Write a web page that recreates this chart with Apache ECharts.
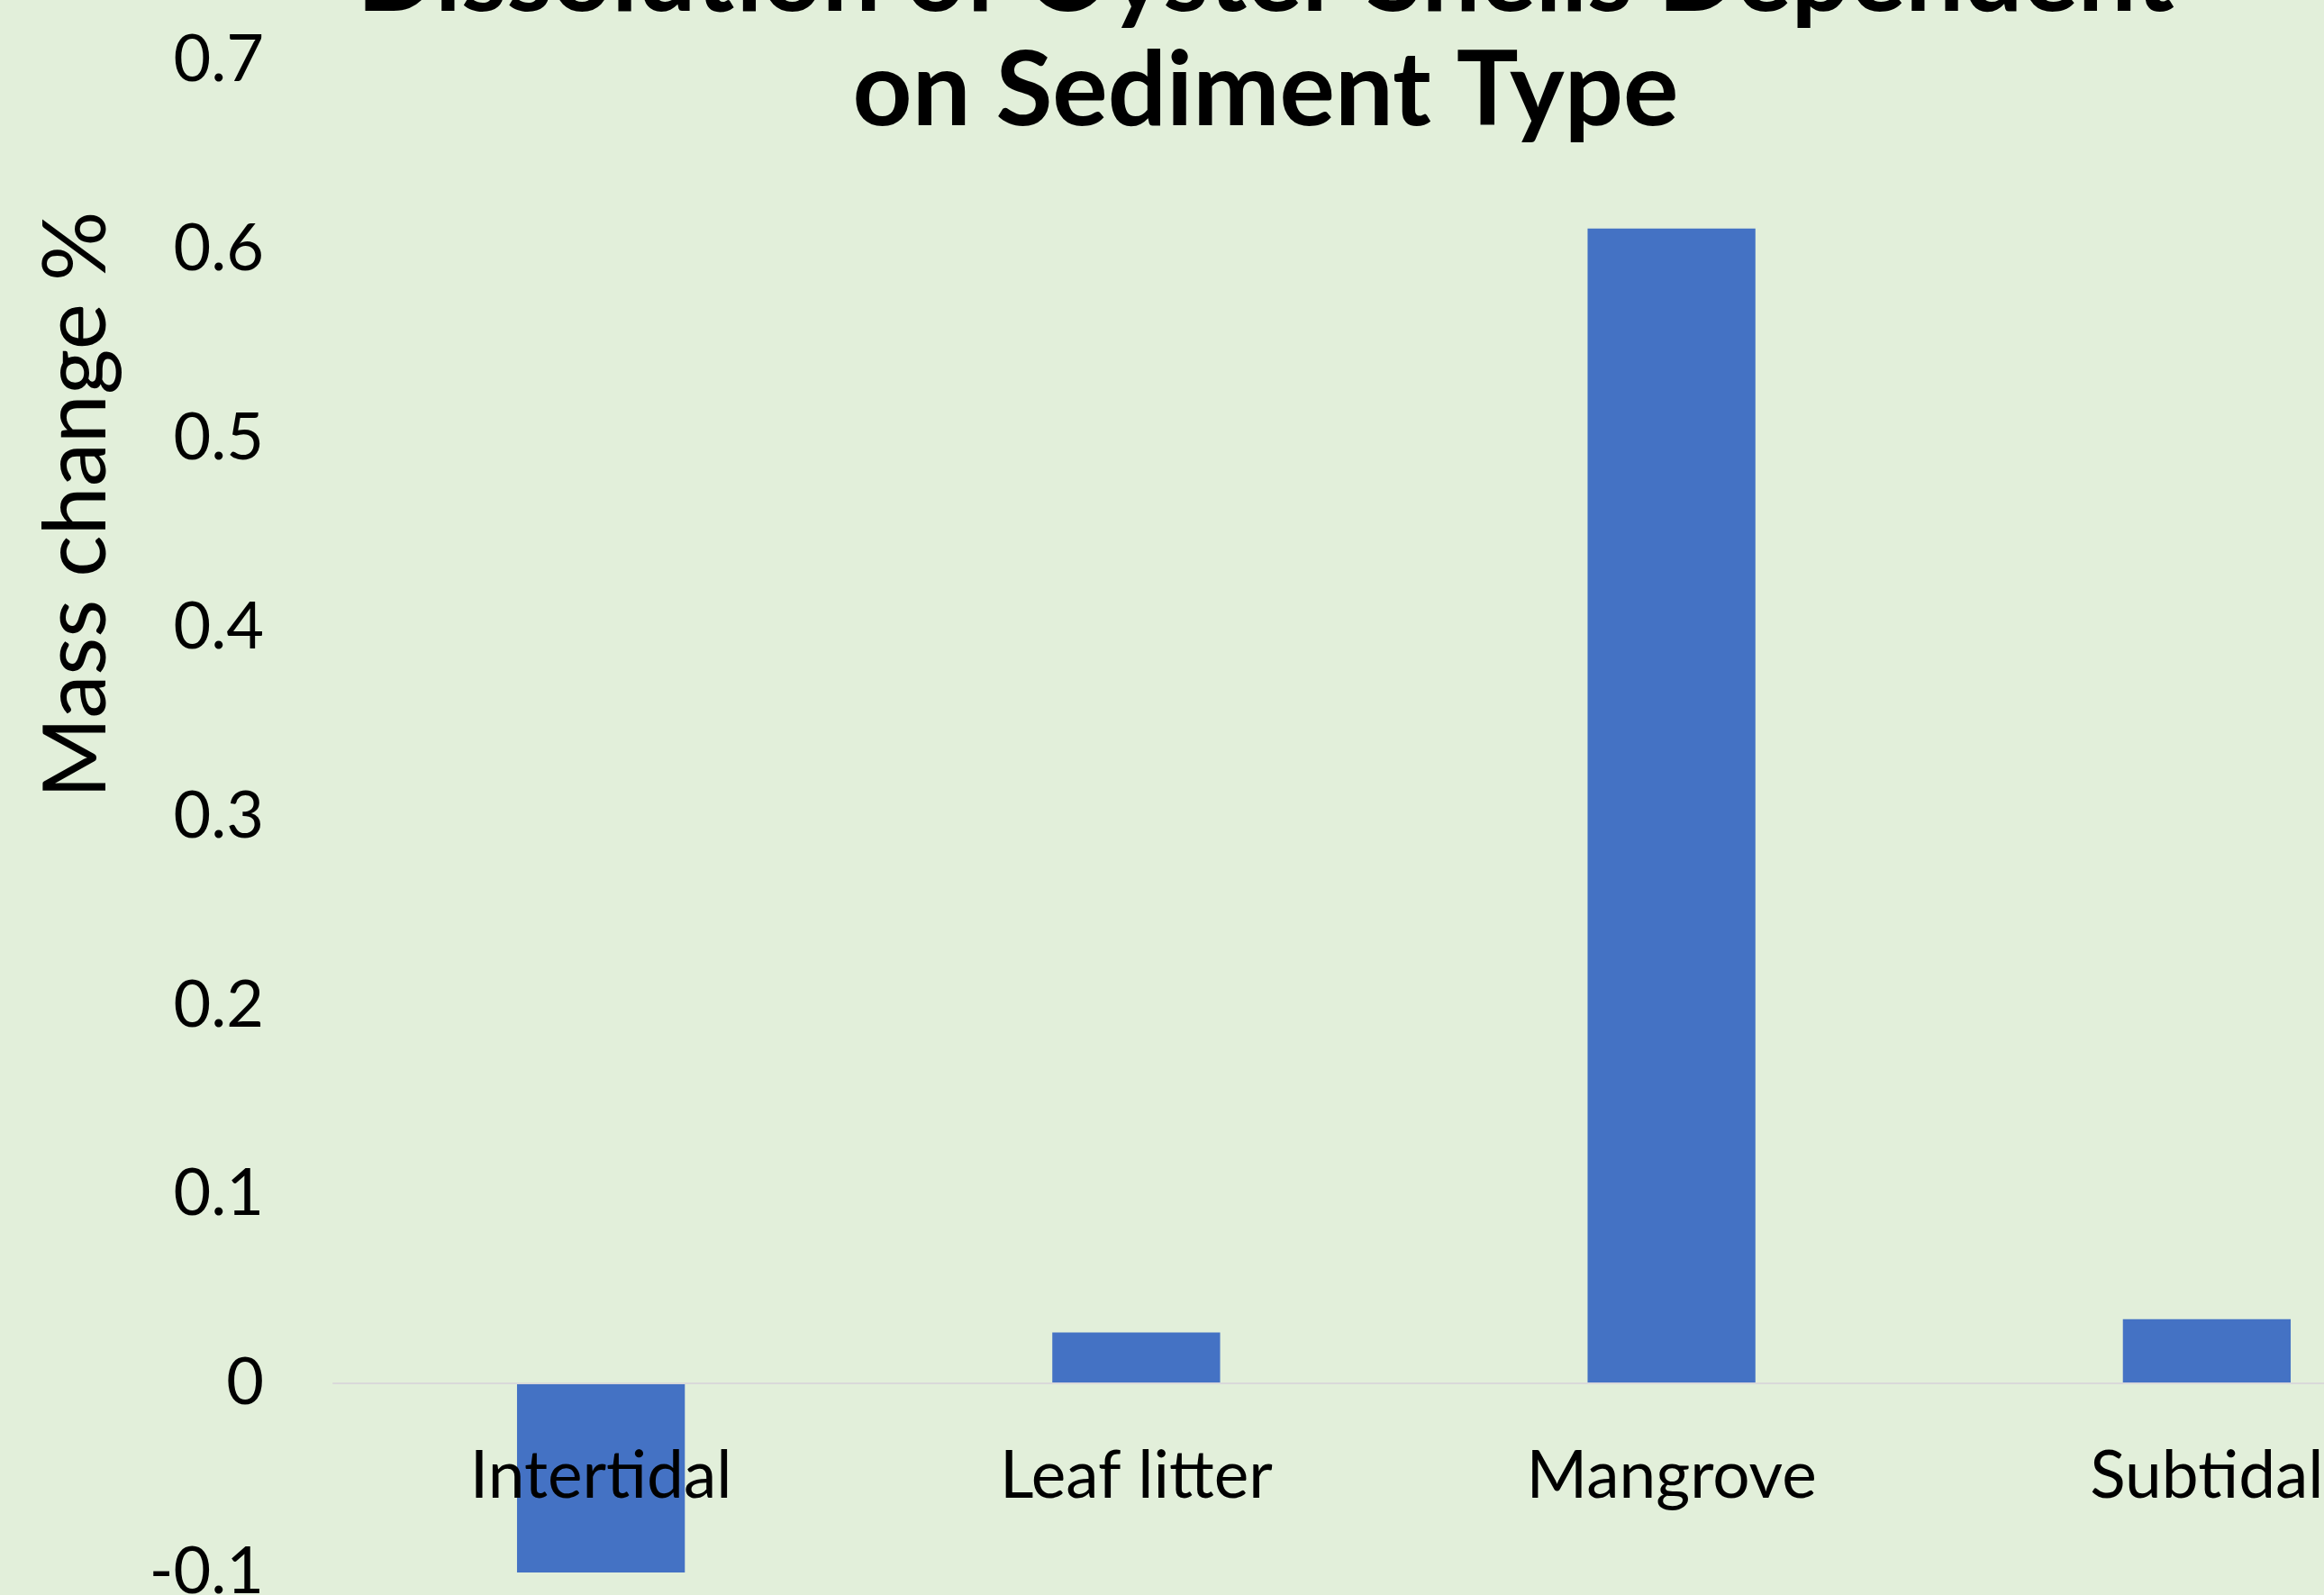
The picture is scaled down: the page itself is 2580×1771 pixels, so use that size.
<!DOCTYPE html>
<html>
<head>
<meta charset="utf-8">
<script src="https://cdn.jsdelivr.net/npm/echarts@6/dist/echarts.min.js"></script>
<style>
html,body{margin:0;padding:0;background:#E2EFDA;}
#chart{width:2580px;height:1771px;}
</style>
</head>
<body>
<div id="chart"></div>
<script>
const categories = ['Intertidal', 'Leaf litter', 'Mangrove', 'Subtidal'];
const massChange = [-0.1, 0.027, 0.611, 0.034];
const titleLines = ['Dissolution of Oyster Shells Dependent', 'on Sediment Type'];
const yAxisTitle = 'Mass change %';

const chart = echarts.init(document.getElementById('chart'), null, {renderer: 'canvas'});
chart.setOption({
  backgroundColor: '#E2EFDA',
  animation: false,
  title: {
    text: titleLines.join('\n'),
    left: 1400,
    top: -94,
    textAlign: 'center',
    textStyle: {
      fontFamily: 'Lato',
      fontWeight: 'bold',
      fontSize: 115,
      lineHeight: 127,
      color: '#000000'
    }
  },
  grid: {
    left: 370,
    right: -167,
    top: 67,
    bottom: 25,
    containLabel: false,
    outerBoundsMode: 'none'
  },
  xAxis: {
    type: 'category',
    data: categories,
    z: 5,
    axisTick: {show: false},
    axisLine: {show: true, onZero: true, lineStyle: {color: '#D9D9D9', width: 2}},
    axisLabel: {
      fontFamily: 'Lato',
      fontSize: 73,
      color: '#000000',
      margin: -143,
      interval: 0,
      hideOverlap: false
    },
    splitLine: {show: false}
  },
  yAxis: {
    type: 'value',
    min: -0.1,
    max: 0.7,
    interval: 0.1,
    name: yAxisTitle,
    nameLocation: 'middle',
    nameRotate: 90,
    nameGap: 236,
    nameTextStyle: {
      fontFamily: 'Lato',
      fontSize: 97,
      color: '#000000',
      padding: [0, 0, 0, 692]
    },
    axisLine: {show: false},
    axisTick: {show: false},
    splitLine: {show: false},
    axisLabel: {
      fontFamily: 'Lato',
      fontSize: 72,
      color: '#000000',
      margin: 77,
      formatter: v => String(Number(v.toFixed(1)))
    }
  },
  series: [{
    type: 'bar',
    data: massChange,
    barWidth: '31.35%',
    z: 2,
    itemStyle: {color: '#4472C4'}
  }]
});
</script>
</body>
</html>
